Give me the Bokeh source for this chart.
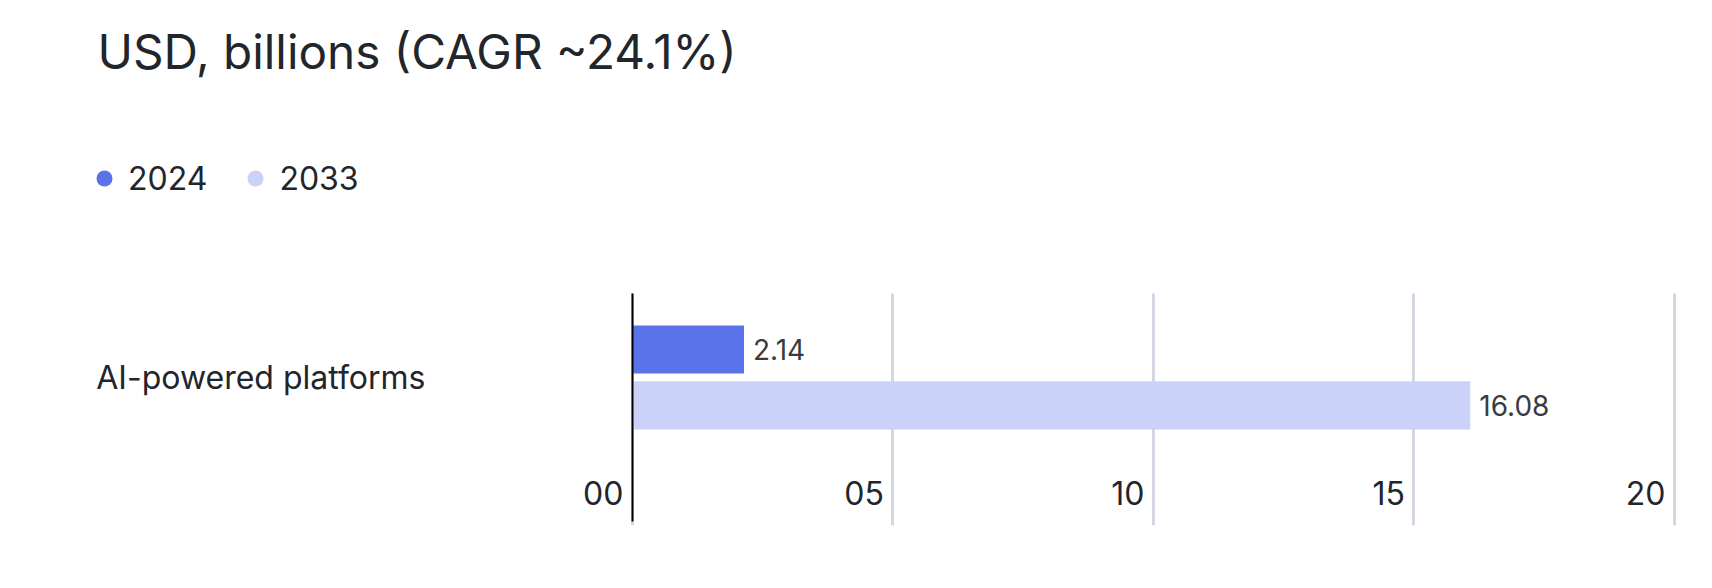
from bokeh.plotting import figure
from bokeh.models import (ColumnDataSource, Range1d, FixedTicker, Legend, LegendItem)
from bokeh.core.properties import value
from bokeh.embed import file_html
from bokeh.resources import INLINE

# ---- data ----
CATEGORIES = ["AI-powered platforms"]
SERIES = ["2024", "2033"]
VALUES_2024 = [2.14]
VALUES_2033 = [16.08]
X_TICKS = [0, 5, 10, 15, 20]
X_TICK_LABELS = ["00", "05", "10", "15", "20"]
TITLE = "USD, billions (CAGR ~24.1%)"

# ---- style / layout ----
FONT = "Inter"
TEXT_COLOR = "#22252b"
VALUE_COLOR = "#3a3b3f"
COLOR_2024 = "#5b73ea"
COLOR_2033 = "#cad2fa"
GRID_COLOR = "#d3d7e1"

W, H = 1712, 588
BAR_H = 0.4
DODGE = 0.233
Y_START, Y_END = -1.234, 2.4325
PLOT_TOP = 0.699          # top of grid / axis area
AXIS_BOTTOM = -1.2
TICK_ROW = -0.96

pos = [-i for i in range(len(CATEGORIES))]

p = figure(width=W, height=H, output_backend="svg", toolbar_location=None,
           x_range=Range1d(-10.518, 20.154), y_range=Range1d(Y_START, Y_END),
           min_border_left=84, min_border_right=30, min_border_bottom=63,
           min_border_top=85)
p.outline_line_color = None
p.background_fill_color = "white"

# title
p.title.text = TITLE
p.title.text_font = FONT
p.title.text_font_size = "47.7px"
p.title.text_font_style = "normal"
p.title.text_color = TEXT_COLOR
p.title.align = "left"
p.title.offset = 13

# bars
src24 = ColumnDataSource(dict(y=[v + DODGE for v in pos], x=VALUES_2024,
                              label=[f"{v:.2f}" for v in VALUES_2024]))
src33 = ColumnDataSource(dict(y=[v - DODGE for v in pos], x=VALUES_2033,
                              label=[f"{v:.2f}" for v in VALUES_2033]))
p.hbar(y="y", right="x", left=0, height=BAR_H, source=src24,
       fill_color=COLOR_2024, line_color=None)
p.hbar(y="y", right="x", left=0, height=BAR_H, source=src33,
       fill_color=COLOR_2033, line_color=None)

for src in (src24, src33):
    p.text(x="x", y="y", text="label", source=src, x_offset=9,
           text_baseline="middle", text_align="left",
           text_font=value(FONT), text_font_size="28px", text_color=VALUE_COLOR)

# tick labels inside the plot, right-aligned to gridlines
tick_src = ColumnDataSource(dict(x=X_TICKS, y=[TICK_ROW] * len(X_TICKS), t=X_TICK_LABELS))
p.text(x="x", y="y", text="t", source=tick_src, x_offset=-9,
       text_align="right", text_baseline="alphabetic",
       text_font=value(FONT), text_font_size="32px", text_color=TEXT_COLOR)

# legend dots: zero-size markers on the bar data, legend draws the dot
d24 = p.scatter(x="x", y="y", source=src24, marker="circle", size=0,
                fill_color=COLOR_2024, line_color=None)
d33 = p.scatter(x="x", y="y", source=src33, marker="circle", size=0,
                fill_color=COLOR_2033, line_color=None)
legend = Legend(items=[LegendItem(label=SERIES[0], renderers=[d24]),
                       LegendItem(label=SERIES[1], renderers=[d33])],
                orientation="horizontal", location=(0, 327),
                glyph_width=40, glyph_height=40, label_standoff=4, spacing=28,
                padding=0, margin=0, border_line_alpha=0, background_fill_alpha=0,
                label_text_font=FONT, label_text_font_size="32px",
                label_text_color=TEXT_COLOR)
p.add_layout(legend, "center")

# axes & grid
p.xaxis.visible = False
p.xaxis.ticker = FixedTicker(ticks=X_TICKS)
p.xgrid.ticker = FixedTicker(ticks=X_TICKS)
p.xgrid.grid_line_color = GRID_COLOR
p.xgrid.grid_line_width = 3
p.xgrid.cross_bounds = (Y_START, PLOT_TOP)
p.ygrid.visible = False

ya = p.yaxis[0]
ya.fixed_location = 0
ya.bounds = (AXIS_BOTTOM, PLOT_TOP)
ya.ticker = FixedTicker(ticks=pos)
ya.major_label_overrides = {pp: c for pp, c in zip(pos, CATEGORIES)}
ya.major_tick_out = 0
ya.major_tick_in = 0
ya.minor_tick_out = 0
ya.minor_tick_in = 0
ya.axis_line_color = "#000000"
ya.axis_line_width = 2
ya.major_label_standoff = 207
ya.major_label_text_font = FONT
ya.major_label_text_font_size = "32px"
ya.major_label_text_color = TEXT_COLOR

open("out.html", "w").write(file_html(p, INLINE))
